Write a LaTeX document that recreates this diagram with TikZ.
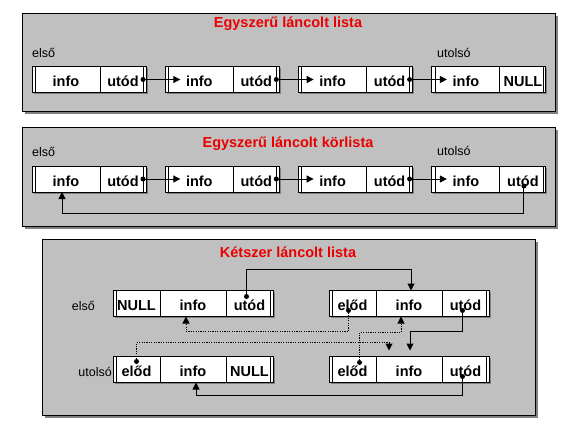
\documentclass[tikz,border=0pt]{standalone}
\usepackage{fontspec}
\setmainfont{Liberation Sans}
\usetikzlibrary{positioning,arrows.meta,shadows}

\definecolor{panelgray}{RGB}{192,192,192}
\definecolor{titlered}{RGB}{235,0,0}

\begin{document}
\begin{tikzpicture}[
  x=1pt, y=-1pt,
  panel/.style = {
    draw=black, line width=0.8pt, fill=panelgray,
    drop shadow={shadow xshift=3pt, shadow yshift=-3pt, fill=black!50, opacity=1},
  },
  heading/.style = {font=\fontsize{14.5}{17}\selectfont\bfseries, text=titlered,
    inner sep=0pt, anchor=base},
  lbl/.style = {font=\fontsize{12.5}{15}\selectfont, inner sep=0pt},
  cell/.style = {
    draw=black, line width=1pt, fill=white,
    minimum height=26pt, inner sep=0pt, outer sep=0pt,
    text height=14pt, text depth=0pt,
    font=\fontsize{14.5}{17}\selectfont\bfseries,
    drop shadow={shadow xshift=1.5pt, shadow yshift=-1.5pt, fill=black!50, opacity=1},
  },
  leftcell/.style = {path picture={\draw[line width=0.6pt]
    ([xshift=3pt]path picture bounding box.north west) --
    ([xshift=3pt]path picture bounding box.south west);}},
  rightcell/.style = {path picture={\draw[line width=0.6pt]
    ([xshift=-3pt]path picture bounding box.north east) --
    ([xshift=-3pt]path picture bounding box.south east);}},
  infocell/.style = {cell, leftcell, minimum width=68pt},
  nextcell/.style = {cell, rightcell, minimum width=46pt},
  ptrcell/.style = {cell, minimum width=47pt},
  datacell/.style = {cell, minimum width=66pt},
  ptrdot/.style = {circle, fill=black, inner sep=0pt, minimum size=5pt},
  link/.style = {-{Triangle[length=7pt,width=7pt]}, line width=1pt},
  backlink/.style = {link, dash pattern=on 1.2pt off 1.2pt},
]
  \useasboundingbox (0,0) rectangle (577,436);

  % the three panels
  \draw[panel] (22,13) rectangle (555,111);
  \draw[panel] (22,127) rectangle (555,226);
  \draw[panel] (42,239) rectangle (535,415);

  \node[heading] (t1) at (288,27.5) {Egyszerű láncolt lista};
  \node[heading] (t2) at (288,147) {Egyszerű láncolt körlista};
  \node[heading] (t3) at (288,257) {Kétszer láncolt lista};

  % simple list
  \node[lbl, anchor=base west] (l1) at (32,57) {első};
  \node[lbl, anchor=base west] (u1) at (437,57) {utolsó};
  \node[infocell, anchor=west] (n1i) at (32,79.5) {info};
  \node[nextcell, right=0pt of n1i] (n1u) {utód};
  \node[infocell, right=19.3pt of n1u] (n2i) {info};
  \node[nextcell, right=0pt of n2i] (n2u) {utód};
  \node[infocell, right=19.3pt of n2u] (n3i) {info};
  \node[nextcell, right=0pt of n3i] (n3u) {utód};
  \node[infocell, right=19.3pt of n3u] (n4i) {info};
  \node[nextcell, right=0pt of n4i] (n4n) {NULL};

  \draw[link] ([xshift=-3pt]n1u.east) node[ptrdot] (p1) {} -- ([xshift=15pt]n2i.west);
  \draw[link] ([xshift=-3pt]n2u.east) node[ptrdot] (p2) {} -- ([xshift=15pt]n3i.west);
  \draw[link] ([xshift=-3pt]n3u.east) node[ptrdot] (p3) {} -- ([xshift=15pt]n4i.west);

  % circular list
  \node[lbl, anchor=base west] (l2) at (32,156) {első};
  \node[lbl, anchor=base west] (u2) at (437,155) {utolsó};
  \node[infocell, anchor=west] (k1i) at (32,179) {info};
  \node[nextcell, right=0pt of k1i] (k1u) {utód};
  \node[infocell, right=19.3pt of k1u] (k2i) {info};
  \node[nextcell, right=0pt of k2i] (k2u) {utód};
  \node[infocell, right=19.3pt of k2u] (k3i) {info};
  \node[nextcell, right=0pt of k3i] (k3u) {utód};
  \node[infocell, right=19.3pt of k3u] (k4i) {info};
  \node[nextcell, right=0pt of k4i] (k4u) {utód};

  \draw[link] ([xshift=-3pt]k1u.east) node[ptrdot] (q1) {} -- ([xshift=15pt]k2i.west);
  \draw[link] ([xshift=-3pt]k2u.east) node[ptrdot] (q2) {} -- ([xshift=15pt]k3i.west);
  \draw[link] ([xshift=-3pt]k3u.east) node[ptrdot] (q3) {} -- ([xshift=15pt]k4i.west);
  \draw[link] ([xshift=1pt,yshift=-7pt]k4u.center) node[ptrdot] (q4) {}
    -- ++(0,27) -| ([xshift=-4pt]k1i.south);

  % doubly linked list
  \node[lbl, anchor=base east] (l3) at (95,310) {első};
  \node[lbl, anchor=base east] (u3) at (112,376) {utolsó};
  \node[ptrcell, leftcell, anchor=west] (a1) at (113,303.5) {NULL};
  \node[datacell, right=0pt of a1] (a2) {info};
  \node[ptrcell, rightcell, right=0pt of a2] (a3) {utód};
  \node[ptrcell, leftcell, anchor=west] (b1) at (329,303.5) {előd};
  \node[datacell, right=0pt of b1] (b2) {info};
  \node[ptrcell, rightcell, right=0pt of b2] (b3) {utód};
  \node[ptrcell, leftcell, anchor=west] (c1) at (113,369.5) {előd};
  \node[datacell, right=0pt of c1] (c2) {info};
  \node[ptrcell, rightcell, right=0pt of c2] (c3) {NULL};
  \node[ptrcell, leftcell, anchor=west] (d1) at (329,369.5) {előd};
  \node[datacell, right=0pt of d1] (d2) {info};
  \node[ptrcell, rightcell, right=0pt of d2] (d3) {utód};

  \draw[link] ([xshift=-3pt,yshift=7pt]a3.center) node[ptrdot] (r1) {}
    -- ++(0,-27) -| ([xshift=2pt]b2.north);
  \draw[backlink] ([xshift=-4pt,yshift=-7pt]b1.center) node[ptrdot] (r2) {}
    -- ++(0,21) -| ([xshift=-7pt]a2.south);
  \draw[link] ([xshift=-3pt,yshift=-7pt]b3.center) node[ptrdot] (r3) {}
    -- ++(0,21) -| ([xshift=1pt,yshift=6pt]d2.north);
  \draw[backlink] ([xshift=7pt,yshift=7pt]d1.center) node[ptrdot] (r4) {}
    -- ++(0,-30) -| ([xshift=-8pt]b2.south);
  \draw[backlink] ([yshift=8pt]c1.center) node[ptrdot] (r5) {}
    -- ++(0,-19) -| ([xshift=-20pt,yshift=6pt]d2.north);
  \draw[link] ([xshift=-3pt,yshift=-7pt]d3.center) node[ptrdot] (r6) {}
    -- ++(0,19) -| ([xshift=3pt]c2.south);
\end{tikzpicture}
\end{document}
